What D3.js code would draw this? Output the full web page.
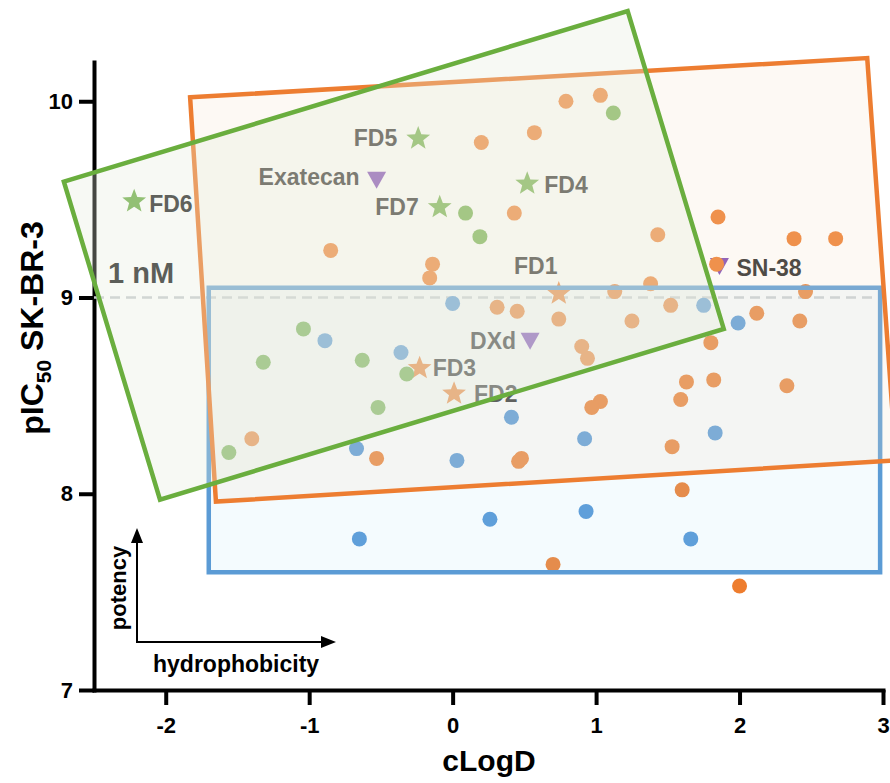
<!DOCTYPE html>
<html>
<head>
<meta charset="utf-8">
<script src="https://cdn.jsdelivr.net/npm/d3@7"></script>
<style>
  body { margin: 0; background: #fff; }
  svg { display: block; font-family: "Liberation Sans", Arial, sans-serif; font-weight: bold; }
</style>
</head>
<body>
<div id="chart"></div>
<script>
// ---- data (cLogD, pIC50) ----
const xTicks = [-2, -1, 0, 1, 2, 3]
const yTicks = [7, 8, 9, 10]

const orangeSeries = [
  [0.79, 10.00], [1.03, 10.03], [0.20, 9.79], [0.57, 9.84], [0.43, 9.43],
  [1.43, 9.32], [1.85, 9.41], [2.38, 9.30], [2.67, 9.30], [1.84, 9.17],
  [1.38, 9.07], [1.13, 9.03], [2.46, 9.03], [-0.85, 9.24], [-0.14, 9.17],
  [-0.16, 9.10], [0.31, 8.95], [0.45, 8.93], [0.74, 8.89], [1.25, 8.88],
  [1.52, 8.96], [2.12, 8.92], [2.42, 8.88], [0.90, 8.75], [0.94, 8.69],
  [1.80, 8.77], [1.63, 8.57], [1.82, 8.58], [2.33, 8.55], [1.59, 8.48],
  [1.03, 8.47], [0.97, 8.44], [1.53, 8.24], [0.48, 8.18], [0.46, 8.165],
  [1.60, 8.02], [0.70, 7.64], [2.00, 7.53], [-1.40, 8.28], [-0.53, 8.18]
]
const greenSeries = [
  [1.12, 9.94], [0.09, 9.43], [0.19, 9.31], [-1.04, 8.84], [-1.32, 8.67],
  [-0.63, 8.68], [-0.32, 8.61], [-0.52, 8.44], [-1.56, 8.21]
]
const blueSeries = [
  [0.00, 8.97], [1.75, 8.96], [1.99, 8.87], [-0.89, 8.78], [-0.36, 8.72],
  [-0.67, 8.23], [0.41, 8.39], [0.92, 8.28], [1.83, 8.31], [0.03, 8.17],
  [-0.65, 7.77], [0.26, 7.87], [0.93, 7.91], [1.66, 7.77]
]

const compoundNames = ['FD1', 'FD2', 'FD3', 'FD4', 'FD5', 'FD6', 'FD7', 'Exatecan', 'SN-38', 'DXd']
const compoundX = [0.74, 0.01, -0.23, 0.52, -0.24, -2.22, -0.09, -0.53, 1.86, 0.54]
const compoundY = [9.02, 8.51, 8.64, 9.58, 9.81, 9.49, 9.46, 9.60, 9.16, 8.78]
const compoundGroup = ['orange', 'orange', 'orange', 'green', 'green', 'green', 'green', 'payload', 'payload', 'payload']

const regionBlue = [[-1.70, 9.05], [2.98, 9.05], [2.98, 7.60], [-1.70, 7.60]]
const regionOrange = [[-1.83, 10.02], [2.89, 10.22], [3.09, 8.17], [-1.65, 7.96]]
const regionGreen = [[-2.71, 9.59], [1.22, 10.46], [1.89, 8.84], [-2.04, 7.97]]

const thresholdY = 9

// ---- styles / layout ----
const W = 890, H = 783
const COLORS = { orange: '#ee7d2e', green: '#6fae48', blue: '#5093d5', payload: '#7b45b5' }
// label offsets from the marker centre (px)
const labelPos = {
  'FD1': [-23, -28, 'middle'], 'FD2': [20, 0, 'start'], 'FD3': [13, 0, 'start'],
  'FD4': [17, 1, 'start'], 'FD5': [-21, -1, 'end'], 'FD6': [15, 2, 'start'],
  'FD7': [-21, -1, 'end'], 'Exatecan': [-17, -3, 'end'], 'SN-38': [17, 2, 'start'],
  'DXd': [-14, 0, 'end']
}

const svg = d3.select('#chart').append('svg').attr('width', W).attr('height', H)

const x = d3.scaleLinear().domain([-2.5, 3]).range([94, 883])
const y = d3.scaleLinear().domain([7, 10.2]).range([690, 62])

// axes
svg.append('g')
  .attr('transform', `translate(0,${y(7)})`)
  .call(d3.axisBottom(x).tickValues(xTicks).tickSize(15).tickSizeOuter(0).tickPadding(12).tickFormat(d => String(d)))
svg.append('g')
  .attr('transform', `translate(${x(-2.5)},0)`)
  .call(d3.axisLeft(y).tickValues(yTicks).tickSize(15).tickSizeOuter(0).tickPadding(6).tickFormat(d => String(d)))
svg.selectAll('.domain').attr('stroke', '#000').attr('stroke-width', 4).attr('stroke-linecap', 'square')
svg.selectAll('.tick line').attr('stroke', '#000').attr('stroke-width', 4)
svg.selectAll('.tick text').attr('fill', '#000').attr('font-size', 22)
  .attr('font-family', '"Liberation Sans", Arial, sans-serif').attr('font-weight', 'bold')

svg.append('text')
  .attr('x', 489).attr('y', 771)
  .attr('text-anchor', 'middle')
  .attr('font-size', 30)
  .text('cLogD')

const yTitle = svg.append('text')
  .attr('transform', 'translate(43,328) rotate(-90)')
  .attr('text-anchor', 'middle')
  .attr('font-size', 32)
yTitle.append('tspan').text('pIC')
yTitle.append('tspan').attr('font-size', 21).attr('dy', 8).text('50')
yTitle.append('tspan').attr('dy', -8).text(' SK-BR-3')

// 1 nM threshold
svg.append('line')
  .attr('x1', x(-2.5)).attr('x2', x(3))
  .attr('y1', y(thresholdY)).attr('y2', y(thresholdY))
  .attr('stroke', '#c9cdd0').attr('stroke-width', 2.5)
  .attr('stroke-dasharray', '10,6')
svg.append('text')
  .attr('x', 108).attr('y', 283)
  .attr('font-size', 29).attr('fill', '#222')
  .text('1 nM')

// potency / hydrophobicity arrows
const defs = svg.append('defs')
defs.append('marker')
  .attr('id', 'arrow-head')
  .attr('markerUnits', 'userSpaceOnUse')
  .attr('markerWidth', 16).attr('markerHeight', 14)
  .attr('refX', 2).attr('refY', 7)
  .attr('orient', 'auto')
  .append('path')
    .attr('d', 'M0,1 L15,7 L0,13 Z')
    .attr('fill', '#000')
svg.append('path')
  .attr('d', 'M137,643 V541')
  .attr('stroke', '#000').attr('stroke-width', 2)
  .attr('marker-end', 'url(#arrow-head)')
svg.append('path')
  .attr('d', 'M136,642 H323')
  .attr('stroke', '#000').attr('stroke-width', 2)
  .attr('marker-end', 'url(#arrow-head)')
svg.append('text')
  .attr('transform', 'translate(126,588) rotate(-90)')
  .attr('text-anchor', 'middle')
  .attr('font-size', 22)
  .text('potency')
svg.append('text')
  .attr('x', 153).attr('y', 672)
  .attr('font-size', 23)
  .text('hydrophobicity')

// markers
const starPath = (R, r) => {
  const pts = []
  for (let i = 0; i < 10; i++) {
    const a = -Math.PI / 2 + i * Math.PI / 5
    const rad = i % 2 === 0 ? R : r
    pts.push([rad * Math.cos(a), rad * Math.sin(a)])
  }
  return 'M' + pts.map(p => p.join(',')).join('L') + 'Z'
}
const triPath = 'M-9.5,-8 L9.5,-8 L0,9 Z'

const compounds = compoundNames.map((name, i) => ({
  name, cx: compoundX[i], cy: compoundY[i], group: compoundGroup[i]
}))

svg.append('g').selectAll('path.payload')
  .data(compounds.filter(d => d.group === 'payload'))
  .enter()
    .append('path')
    .attr('class', 'payload')
    .attr('transform', d => `translate(${x(d.cx)},${y(d.cy)})`)
    .attr('d', triPath)
    .attr('fill', COLORS.payload)

svg.append('g').selectAll('path.star')
  .data(compounds.filter(d => d.group !== 'payload'))
  .enter()
    .append('path')
    .attr('class', 'star')
    .attr('transform', d => `translate(${x(d.cx)},${y(d.cy)})`)
    .attr('d', starPath(12.5, 5.3))
    .attr('fill', d => COLORS[d.group])

const drawDots = (data, color) => {
  svg.append('g').selectAll('circle')
    .data(data)
    .enter()
      .append('circle')
      .attr('cx', d => x(d[0]))
      .attr('cy', d => y(d[1]))
      .attr('r', 7.5)
      .attr('fill', color)
}
drawDots(orangeSeries, COLORS.orange)
drawDots(greenSeries, COLORS.green)
drawDots(blueSeries, COLORS.blue)

svg.append('g').selectAll('text')
  .data(compounds)
  .enter()
    .append('text')
    .attr('x', d => x(d.cx) + labelPos[d.name][0])
    .attr('y', d => y(d.cy) + labelPos[d.name][1])
    .attr('dy', '0.36em')
    .attr('text-anchor', d => labelPos[d.name][2])
    .attr('font-size', 23)
    .attr('fill', '#262626')
    .text(d => d.name)

// translucent regions on top
const regions = [
  { pts: regionBlue, stroke: '#5b9bd5', fill: 'rgb(178,226,245)', op: 0.15 },
  { pts: regionOrange, stroke: '#ed7d31', fill: 'rgb(245,226,202)', op: 0.2 },
  { pts: regionGreen, stroke: '#6aae3e', fill: 'rgb(229,236,217)', op: 0.3 }
]
const line = d3.line().x(d => x(d[0])).y(d => y(d[1])).curve(d3.curveLinearClosed)
regions.forEach(r => {
  svg.append('path')
    .attr('d', line(r.pts))
    .attr('fill', r.fill)
    .attr('fill-opacity', r.op)
    .attr('stroke', r.stroke)
    .attr('stroke-width', 4.5)
    .attr('stroke-linejoin', 'miter')
})
</script>
</body>
</html>
